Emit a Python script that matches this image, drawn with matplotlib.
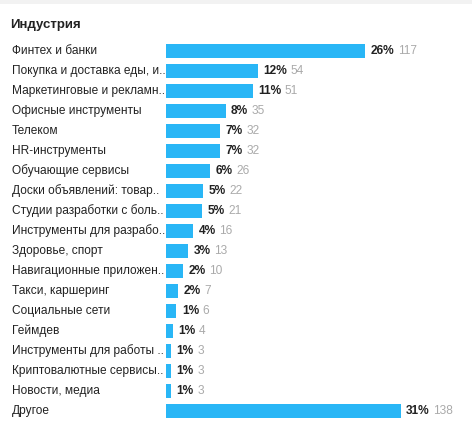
import matplotlib
matplotlib.use("Agg")
import matplotlib.pyplot as plt
from matplotlib.transforms import blended_transform_factory
from matplotlib.patches import Rectangle

plt.rcParams['font.family'] = ['Liberation Sans', 'DejaVu Sans']

title = "Индустрия"
labels = [
    "Финтех и банки",
    "Покупка и доставка еды, и..",
    "Маркетинговые и рекламн..",
    "Офисные инструменты",
    "Телеком",
    "HR-инструменты",
    "Обучающие сервисы",
    "Доски объявлений: товар..",
    "Студии разработки с боль..",
    "Инструменты для разрабо..",
    "Здоровье, спорт",
    "Навигационные приложен..",
    "Такси, каршеринг",
    "Социальные сети",
    "Геймдев",
    "Инструменты для работы ..",
    "Криптовалютные сервисы..",
    "Новости, медиа",
    "Другое",
]
counts = [117, 54, 51, 35, 32, 32, 26, 22, 21, 16, 13, 10, 7, 6, 4, 3, 3, 3, 138]
percents = [26, 12, 11, 8, 7, 7, 6, 5, 5, 4, 3, 2, 2, 1, 1, 1, 1, 1, 31]

W, H = 472, 438
fig = plt.figure(figsize=(W / 100, H / 100), dpi=100)
fig.patch.set_facecolor("white")

# thin grey strip at the very top
fig.patches.append(Rectangle((0, 1 - 4 / H), 1, 4 / H, transform=fig.transFigure,
                             facecolor="#f2f2f2", edgecolor="none"))

left, right = 166, 472
top, bottom = 41, 421
ax = fig.add_axes([left / W, 1 - bottom / H, (right - left) / W, (bottom - top) / H])
ax.set_xlim(0, (right - left) / 1.70)
ax.set_ylim(len(labels) - 0.5, -0.5)
ax.axis("off")

ypos = list(range(len(labels)))
ax.barh(ypos, counts, height=0.72, color="#29b6f6", align="center")

tr = blended_transform_factory(fig.transFigure, ax.transData)
for y, lab, c, p in zip(ypos, labels, counts, percents):
    ax.text(12 / W, y, lab, transform=tr, ha="left", va="center",
            fontsize=8.6, color="#222222")
    t = ax.annotate(f"{p}%", xy=(c, y), xytext=(4, 0), textcoords="offset points",
                    ha="left", va="center", fontsize=8.6, fontweight="bold",
                    color="#222222")
    ax.annotate(str(c), xy=(1, 0.5), xycoords=t, xytext=(2.5, 0),
                textcoords="offset points", ha="left", va="center",
                fontsize=8.6, color="#aaaaaa")

fig.text(10 / W, 1 - 25 / H, title, ha="left", va="center", fontsize=9.5,
         fontweight="bold", color="#222222")

fig.savefig("out.png", dpi=100)
